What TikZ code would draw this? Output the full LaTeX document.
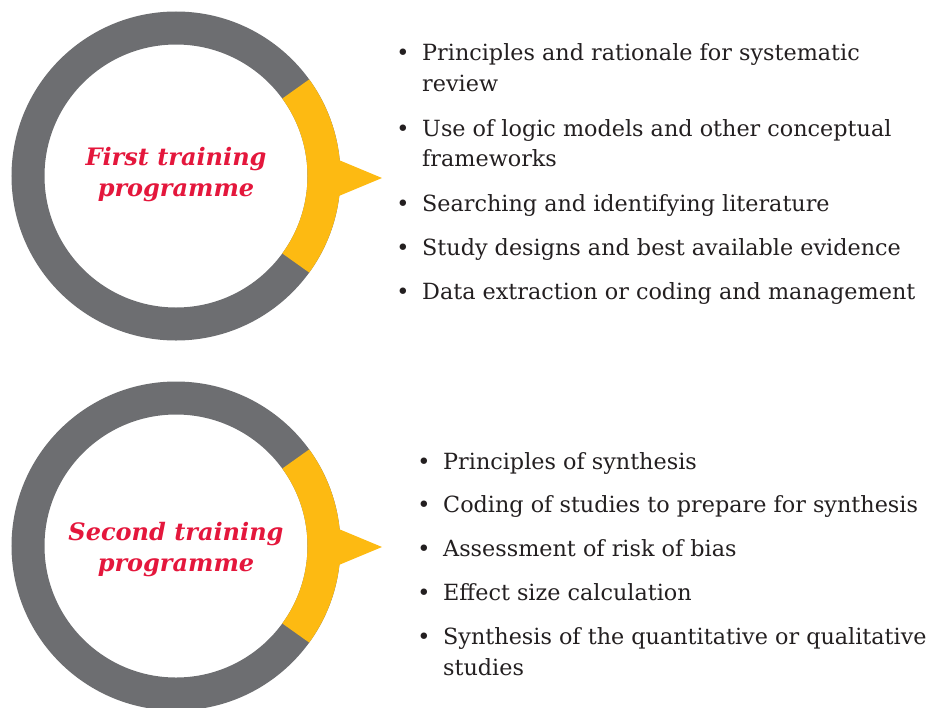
\documentclass[tikz,border=0pt]{standalone}
\usepackage{fontspec}
\setmainfont{DejaVu Serif}
\definecolor{ringgray}{HTML}{6D6E71}
\definecolor{ringyellow}{HTML}{FDBA12}
\definecolor{titlered}{HTML}{E4173C}
\definecolor{txt}{HTML}{231F20}
\tikzset{
  ringbase/.style={draw=ringgray, line width=33pt},
  ringarc/.style={draw=ringyellow, line width=33pt},
  pointer/.style={fill=ringyellow},
  titletext/.style={text=titlered, font=\fontsize{24}{31}\selectfont\bfseries\itshape, align=center, inner sep=0pt},
  itemtext/.style={text=txt, font=\fontsize{22.3}{31}\selectfont, anchor=base west, inner sep=0pt},
  bulletmark/.style={text=txt, font=\fontsize{22.3}{31}\selectfont, anchor=base, inner sep=0pt}
}
\begin{document}
\begin{tikzpicture}[x=1pt, y=-1pt]
\useasboundingbox (0,0) rectangle (928,707);
% ---- first ring ----
\coordinate (c1) at (176,176);
\draw[ringbase] (c1) circle (148);
\draw[ringarc] ([shift={(-36:148)}]c1) arc[start angle=-36, end angle=36, radius=148];
\fill[pointer] (334,158) -- (382,178) -- (334,198) -- cycle;
\node[titletext] (t1) at (176,175) {First training\\programme};
% ---- second ring ----
\coordinate (c2) at (176,546);
\draw[ringbase] (c2) circle (148);
\draw[ringarc] ([shift={(-36:148)}]c2) arc[start angle=-36, end angle=36, radius=148];
\fill[pointer] (334,527) -- (382,547) -- (334,567) -- cycle;
\node[titletext] (t2) at (176,550) {Second training\\programme};
% ---- first list ----
\node[bulletmark] (b11) at (403,60) {•};
\node[itemtext] (i11) at (422,60) {Principles and rationale for systematic};
\node[itemtext] (i11b) at (422,91) {review};
\node[bulletmark] (b12) at (403,136) {•};
\node[itemtext] (i12) at (422,136) {Use of logic models and other conceptual};
\node[itemtext] (i12b) at (422,166) {frameworks};
\node[bulletmark] (b13) at (403,211) {•};
\node[itemtext] (i13) at (422,211) {Searching and identifying literature};
\node[bulletmark] (b14) at (403,255) {•};
\node[itemtext] (i14) at (422,255) {Study designs and best available evidence};
\node[bulletmark] (b15) at (403,299) {•};
\node[itemtext] (i15) at (422,299) {Data extraction or coding and management};
% ---- second list ----
\node[bulletmark] (b21) at (424,469) {•};
\node[itemtext] (i21) at (443,469) {Principles of synthesis};
\node[bulletmark] (b22) at (424,512) {•};
\node[itemtext] (i22) at (443,512) {Coding of studies to prepare for synthesis};
\node[bulletmark] (b23) at (424,556) {•};
\node[itemtext] (i23) at (443,556) {Assessment of risk of bias};
\node[bulletmark] (b24) at (424,600) {•};
\node[itemtext] (i24) at (443,600) {Effect size calculation};
\node[bulletmark] (b25) at (424,644) {•};
\node[itemtext] (i25) at (443,644) {Synthesis of the quantitative or qualitative};
\node[itemtext] (i25b) at (443,675) {studies};
\end{tikzpicture}
\end{document}
